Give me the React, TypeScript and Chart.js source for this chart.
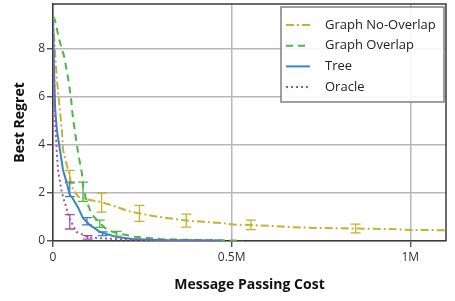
import React, { useEffect, useRef } from 'react';
import { Chart, registerables } from 'chart.js';
Chart.register(...registerables);

const FONT = "'Open Sans', 'Noto Sans', sans-serif";

const seriesLabels = ['Graph No-Overlap', 'Graph Overlap', 'Tree', 'Oracle'];
const seriesColors = ['#c8b030', '#4db848', '#3b84c4', '#a54fb0'];
const seriesDashes = [[8, 3, 2, 3], [7, 5], [], [2, 3]];

// x in millions of messages
const noOverlapX = [0, 0.005, 0.011, 0.025, 0.028, 0.047, 0.053, 0.07, 0.1, 0.136, 0.178, 0.21, 0.242, 0.28, 0.373, 0.42, 0.47, 0.51, 0.554, 0.61, 0.66, 0.75, 0.847, 0.94, 1.0, 1.1];
const noOverlapY = [9.3, 8.0, 6.7, 4.6, 3.8, 2.67, 2.25, 1.85, 1.72, 1.62, 1.42, 1.25, 1.15, 1.04, 0.85, 0.8, 0.75, 0.68, 0.67, 0.63, 0.58, 0.54, 0.52, 0.5, 0.46, 0.45];

const overlapX = [0, 0.0056, 0.017, 0.031, 0.042, 0.05, 0.056, 0.064, 0.07, 0.081, 0.084, 0.095, 0.109, 0.131, 0.153, 0.178, 0.228, 0.3, 0.4, 0.53];
const overlapY = [9.35, 9.2, 8.4, 7.7, 6.8, 6.0, 5.1, 4.3, 3.7, 2.8, 2.25, 1.6, 1.1, 0.75, 0.45, 0.33, 0.18, 0.08, 0.04, 0.02];

const treeX = [0, 0.003, 0.006, 0.011, 0.0195, 0.028, 0.039, 0.047, 0.053, 0.07, 0.084, 0.103, 0.131, 0.178, 0.223, 0.3, 0.47];
const treeY = [9.2, 7.0, 5.5, 4.6, 3.8, 2.96, 2.4, 1.9, 1.83, 1.4, 0.95, 0.67, 0.38, 0.17, 0.08, 0.04, 0.02];

const oracleX = [0, 0.003, 0.006, 0.011, 0.014, 0.025, 0.039, 0.047, 0.066, 0.1, 0.13, 0.2, 0.3, 0.47];
const oracleY = [9.0, 7.0, 5.0, 3.6, 2.96, 2.0, 1.3, 0.9, 0.38, 0.15, 0.12, 0.06, 0.03, 0.02];

// error bars: x, mean, half-width
const noOverlapErrX = [0.047, 0.136, 0.242, 0.373, 0.554, 0.847];
const noOverlapErrY = [2.67, 1.6, 1.15, 0.85, 0.67, 0.52];
const noOverlapErrD = [0.27, 0.4, 0.33, 0.27, 0.2, 0.18];

const overlapErrX = [0.084, 0.131, 0.178];
const overlapErrY = [2.05, 0.72, 0.3];
const overlapErrD = [0.4, 0.15, 0.1];

const treeErrX = [0.047, 0.095, 0.139];
const treeErrY = [2.15, 0.82, 0.3];
const treeErrD = [0.3, 0.15, 0.08];

const oracleErrX = [0.047, 0.097];
const oracleErrY = [0.8, 0.15];
const oracleErrD = [0.3, 0.07];

const xTicks = [0, 0.5, 1];
const yTicks = [0, 2, 4, 6, 8];

const lineXs = [noOverlapX, overlapX, treeX, oracleX];
const lineYs = [noOverlapY, overlapY, treeY, oracleY];
const errXs = [noOverlapErrX, overlapErrX, treeErrX, oracleErrX];
const errYs = [noOverlapErrY, overlapErrY, treeErrY, oracleErrY];
const errDs = [noOverlapErrD, overlapErrD, treeErrD, oracleErrD];

const extrasPlugin = {
  id: 'extras',
  afterDatasetsDraw(chart: any) {
    const { ctx, scales } = chart;
    const xs = scales.x, ys = scales.y;
    ctx.save();
    for (let s = 0; s < 4; s++) {
      ctx.strokeStyle = seriesColors[s];
      ctx.lineWidth = 1.3;
      ctx.setLineDash([]);
      errXs[s].forEach((xv: number, i: number) => {
        const px = xs.getPixelForValue(xv);
        const top = ys.getPixelForValue(errYs[s][i] + errDs[s][i]);
        const bot = ys.getPixelForValue(Math.max(0, errYs[s][i] - errDs[s][i]));
        ctx.beginPath();
        ctx.moveTo(px, top); ctx.lineTo(px, bot);
        ctx.moveTo(px - 5, top); ctx.lineTo(px + 5, top);
        ctx.moveTo(px - 5, bot); ctx.lineTo(px + 5, bot);
        ctx.stroke();
      });
    }
    ctx.restore();
  },
  afterDraw(chart: any) {
    const { ctx, chartArea } = chart;
    ctx.save();
    // frame
    ctx.strokeStyle = '#3a3a3a';
    ctx.lineWidth = 1.5;
    ctx.setLineDash([]);
    ctx.beginPath();
    ctx.moveTo(chartArea.left, chartArea.top);
    ctx.lineTo(chartArea.right, chartArea.top);
    ctx.lineTo(chartArea.right, chartArea.bottom);
    ctx.stroke();
    // legend
    const w = 163, h = 95;
    const bx = chartArea.right - 2 - w;
    const by = chartArea.top + 3;
    ctx.fillStyle = 'rgba(255,255,255,0.9)';
    ctx.fillRect(bx, by, w, h);
    ctx.strokeStyle = '#808080';
    ctx.lineWidth = 1.5;
    ctx.strokeRect(bx, by, w, h);
    ctx.font = `13px ${FONT}`;
    ctx.textBaseline = 'middle';
    ctx.textAlign = 'left';
    for (let s = 0; s < 4; s++) {
      const y = by + 18 + s * 20.7;
      ctx.strokeStyle = seriesColors[s];
      ctx.lineWidth = 2;
      ctx.setLineDash(seriesDashes[s]);
      ctx.beginPath();
      ctx.moveTo(bx + 5, y);
      ctx.lineTo(bx + 29, y);
      ctx.stroke();
      ctx.setLineDash([]);
      ctx.fillStyle = '#222';
      ctx.fillText(seriesLabels[s], bx + 44, y);
    }
    ctx.restore();
  },
};

export default function App() {
  const ref = useRef<HTMLCanvasElement>(null);
  useEffect(() => {
    const datasets = seriesLabels.map((label, s) => ({
      label,
      data: lineXs[s].map((x, i) => ({ x, y: lineYs[s][i] })),
      borderColor: seriesColors[s],
      backgroundColor: seriesColors[s],
      borderWidth: 2,
      borderDash: seriesDashes[s],
      pointRadius: 0,
      tension: 0,
      fill: false,
      order: 4 - s,
    }));
    const tickFont = { family: FONT, size: 12 };
    const titleFont = { family: FONT, size: 14, weight: 'bold' as const };
    const chart = new Chart(ref.current!, {
      type: 'line',
      data: { datasets },
      plugins: [extrasPlugin],
      options: {
        responsive: false,
        animation: false,
        layout: { padding: { top: 4, right: 9, left: 0, bottom: 0 } },
        plugins: { legend: { display: false }, tooltip: { enabled: false } },
        scales: {
          x: {
            type: 'linear',
            min: 0,
            max: 1.1,
            afterFit: (s: any) => { s.height = 60; s.paddingLeft = 0; s.paddingRight = 0; },
            afterBuildTicks: (s: any) => { s.ticks = xTicks.map((v) => ({ value: v })); },
            ticks: {
              font: tickFont,
              color: '#333',
              padding: 3,
              maxRotation: 0,
              callback: (v: any) => (v === 0 ? '0' : `${v}M`),
            },
            grid: { color: '#b8b8b8', lineWidth: 1.5, tickColor: '#333', tickLength: 6, tickWidth: 1.2 },
            border: { color: '#3a3a3a', width: 1.5 },
            title: { display: true, text: 'Message Passing Cost', font: titleFont, color: '#111', padding: { top: 0, bottom: 8 } },
          },
          y: {
            type: 'linear',
            min: 0,
            max: 9.87,
            afterFit: (s: any) => { s.width = 53; s.paddingTop = 0; s.paddingBottom = 0; },
            afterBuildTicks: (s: any) => { s.ticks = yTicks.map((v) => ({ value: v })); },
            ticks: { font: tickFont, color: '#333', padding: 2 },
            grid: { color: '#b8b8b8', lineWidth: 1.5, tickColor: '#333', tickLength: 6, tickWidth: 1.2 },
            border: { color: '#3a3a3a', width: 1.5 },
            title: { display: true, text: 'Best Regret', font: titleFont, color: '#111', padding: { top: 12, bottom: 0 } },
          },
        },
      },
    });
    return () => chart.destroy();
  }, []);
  return (
    <div style={{ position: 'absolute', left: 0, top: 0, width: 455, height: 301, background: '#fff' }}>
      <canvas ref={ref} width={455} height={301} />
    </div>
  );
}
